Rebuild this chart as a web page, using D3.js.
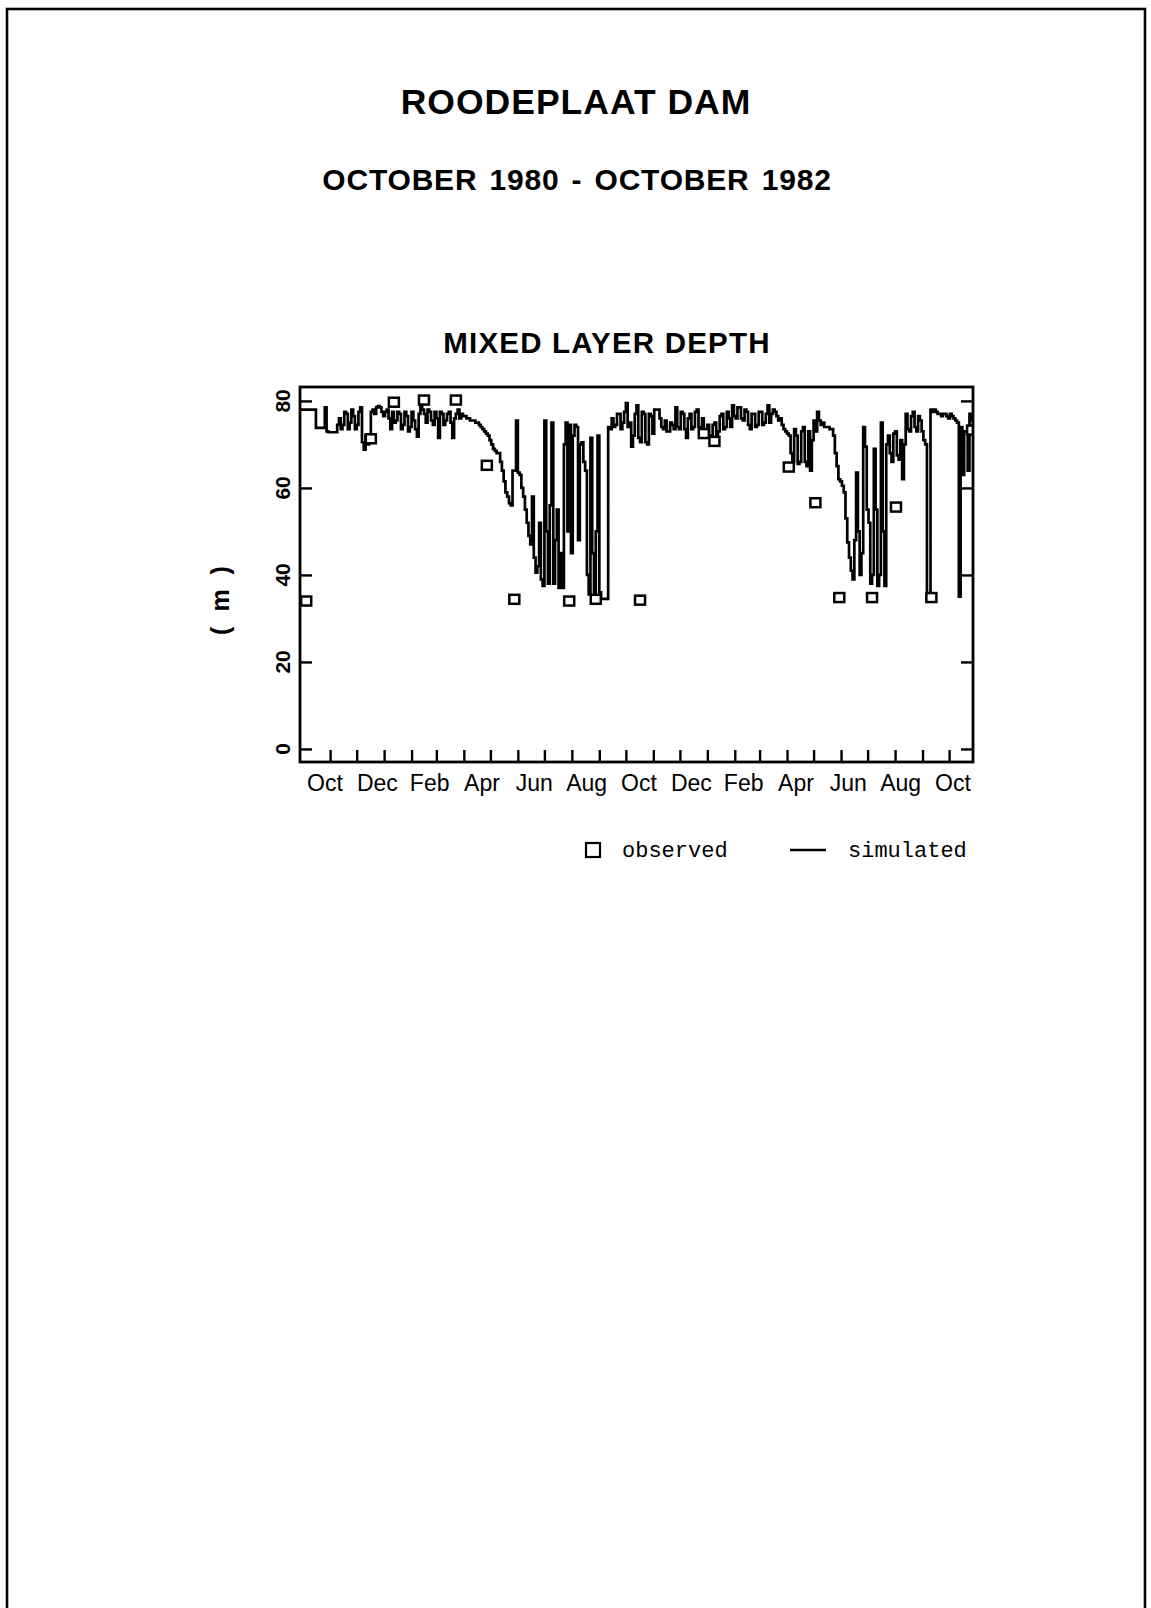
<!DOCTYPE html>
<html>
<head>
<meta charset="utf-8">
<script src="https://cdn.jsdelivr.net/npm/d3@7"></script>
<style>
  body { margin: 0; background: #fff; }
  svg { display: block; }
</style>
</head>
<body>
<div id="chart"></div>
<script>
// simulated mixed layer depth (m), every 4 days
var simStart = new Date(1980, 8, 28);
var simStepDays = 4;
var simulated = [
  78, 78, 78, 78, 78, 73.8, 73.8, 78.5, 72.8, 72.8,
  72.8, 76, 74.5, 77, 75, 76.5, 74.5, 78.5, 68.8, 70,
  77.5, 77, 78.8, 77.5, 77.5, 76, 77.5, 75.5, 77, 74.5,
  76.5, 74, 75.5, 71.8, 79.5, 77, 78, 75.5, 77.5, 71.5,
  77, 75.5, 77.5, 71.5, 77, 76, 76.5, 76, 75.5, 75.5,
  75, 74, 73, 72, 70, 68.5, 68, 64, 59, 56.5,
  64, 75.5, 63, 58, 52, 47, 44, 42, 39, 75.5,
  38, 75, 48, 37, 37, 75, 74.5, 72, 74, 70,
  66, 40, 71.5, 35, 72, 34.5, 34.5, 74, 76, 74.5,
  77, 75, 79.5, 75, 72, 79, 70.5, 77, 70, 76.5,
  78, 78, 74, 75.5, 73, 74.5, 78.5, 73.5, 77, 71.5,
  77, 74, 78, 73.5, 72.5, 74.5, 72, 75, 73, 77,
  74, 76, 79, 76, 78.5, 75.5, 77.5, 73.5, 77, 74.5,
  77.5, 75, 79, 77, 77.5, 75.5, 74.5, 73, 72, 66,
  72, 66, 74, 65, 64, 75.5, 77.5, 74.5, 74, 74,
  73.5, 68, 62, 60.5, 53, 44, 39, 63.5, 40, 74,
  55, 38, 69, 37.5, 75, 37.5, 72, 66, 73, 66.5,
  62, 77, 73, 77.5, 73, 75.5, 71, 34.5, 78, 78,
  77, 76.5, 77, 76, 76.5, 75.5, 35, 63, 73, 77,
  74
];
// the in-between readings, 2 days after each value above (daily swings)
var simulatedMid = [
  78, 78, 78, 78, 73.8, 73.8, 73.8, 73, 72.8, 72.8,
  74.5, 73.5, 77.5, 73.5, 78, 73.5, 77.5, 70.5, 72, 71.5,
  78, 78.5, 78.5, 76.5, 78, 73.5, 75, 77.5, 73.5, 77.5,
  73, 77.5, 73.5, 77, 78, 75, 77.5, 74.5, 76, 77.5,
  74.5, 77, 75, 76, 78, 77, 76.5, 76, 75.5, 75,
  74.5, 73.5, 72.5, 71, 69, 68, 66, 61.5, 58, 56,
  64, 63.5, 60, 55, 49, 58, 40.5, 52, 37.5, 50,
  56, 38, 55, 45, 70, 50, 45, 74.5, 48, 70.5,
  64, 35.5, 45, 50, 36, 34.5, 34.5, 73.5, 74, 77,
  73.5, 77.5, 74, 69.5, 77, 71.5, 77.5, 70.5, 77, 72.5,
  78, 76, 73.5, 73, 75, 73.5, 74, 77.5, 73.5, 76,
  73.5, 77.5, 74, 76, 73.5, 71.5, 74.5, 71, 76.5, 73.5,
  77.5, 74, 76.5, 78.5, 76, 78, 74.5, 77, 74, 77.5,
  74.5, 77, 75, 78, 76.5, 76, 73.5, 72.5, 68, 73.5,
  65.5, 73, 66, 73, 71, 73, 75.5, 75, 74, 73.5,
  72, 65, 61.5, 59, 47.5, 41, 48, 50, 45, 69.5,
  52, 40, 55, 40, 50, 70, 68, 72.5, 67.5, 71,
  70, 73.5, 76.5, 74, 76.5, 73, 70, 34.5, 77.5, 77.5,
  77, 77, 76.5, 77, 76, 75, 74, 73, 64, 75.5
];

// observed mixed layer depth (m)
var obsDates = [
  "1980-10-05", "1980-12-17", "1981-01-12", "1981-02-15", "1981-03-23",
  "1981-04-27", "1981-05-28", "1981-07-29", "1981-08-28", "1981-10-17",
  "1981-12-28", "1982-01-09", "1982-04-03", "1982-05-03", "1982-05-30",
  "1982-07-06", "1982-08-02", "1982-09-11", "1982-10-27"
];
var obsValues = [
  34, 71.3, 79.7, 80.2, 80.2,
  65.2, 34.4, 34, 34.4, 34.2,
  72.5, 70.7, 64.8, 56.6, 34.8,
  34.8, 55.6, 34.8, 73.3
];

var monthLabels = ["Oct", "Dec", "Feb", "Apr", "Jun", "Aug", "Oct", "Dec", "Feb", "Apr", "Jun", "Aug", "Oct"];
var yTicks = [0, 20, 40, 60, 80];
var legendLabels = ["observed", "simulated"];

var W = 1151, H = 1608;
var svg = d3.select('#chart').append('svg')
  .attr('width', W)
  .attr('height', H);

// page frame
svg.append('rect')
  .attr('x', 7).attr('y', 9)
  .attr('width', 1138).attr('height', 1640)
  .attr('fill', 'none')
  .attr('stroke', '#000')
  .attr('stroke-width', 2.6);

// titles
var titleFont = 'Liberation Sans, Arial, Helvetica, sans-serif';
svg.append('text')
  .attr('x', 576).attr('y', 114)
  .attr('text-anchor', 'middle')
  .style('font-family', titleFont)
  .style('font-weight', 'bold')
  .style('font-size', '35.5px')
  .style('letter-spacing', '1px')
  .text('ROODEPLAAT DAM');

svg.append('text')
  .attr('x', 577).attr('y', 190)
  .attr('text-anchor', 'middle')
  .style('font-family', titleFont)
  .style('font-weight', 'bold')
  .style('font-size', '30px')
  .style('letter-spacing', '0.8px')
  .style('word-spacing', '3px')
  .text('OCTOBER 1980 - OCTOBER 1982');

svg.append('text')
  .attr('x', 607).attr('y', 353)
  .attr('text-anchor', 'middle')
  .style('font-family', titleFont)
  .style('font-weight', 'bold')
  .style('font-size', '29.5px')
  .style('letter-spacing', '1.2px')
  .text('MIXED LAYER DEPTH');

// plot area
var pw = 673, ph = 375;
var plot = svg.append('g').attr('transform', 'translate(300,387)');

var x = d3.scaleTime()
  .domain([new Date(1980, 8, 28), new Date(1982, 9, 28)])
  .range([0, pw]);
var y = d3.scaleLinear()
  .domain([-3, 83.2])
  .range([ph, 0]);

plot.append('clipPath').attr('id', 'clip')
  .append('rect').attr('width', pw).attr('height', ph);

// simulated line: 4-day readings interleaved with the in-between readings
var simPts = [];
simulated.forEach(function (v, i) {
  simPts.push({ date: d3.timeDay.offset(simStart, i * simStepDays), v: v });
  if (i < simulatedMid.length) {
    simPts.push({ date: d3.timeDay.offset(simStart, i * simStepDays + simStepDays / 2), v: simulatedMid[i] });
  }
});
simPts.push({ date: d3.timeDay.offset(simStart, simulated.length * simStepDays), v: simulated[simulated.length - 1] });

var line = d3.line()
  .x(function (d) { return x(d.date); })
  .y(function (d) { return y(d.v); })
  .curve(d3.curveStepAfter);

plot.append('path')
  .datum(simPts)
  .attr('clip-path', 'url(#clip)')
  .attr('d', line)
  .attr('fill', 'none')
  .attr('stroke', '#000')
  .attr('stroke-width', 2.7)
  .attr('stroke-linejoin', 'miter');

// observed squares
var parse = d3.timeParse('%Y-%m-%d');
var obs = obsDates.map(function (d, i) { return { date: parse(d), v: obsValues[i] }; });
plot.append('g')
  .attr('clip-path', 'url(#clip)')
  .selectAll('rect')
  .data(obs)
  .enter()
  .append('rect')
  .attr('x', function (d) { return x(d.date) - 5; })
  .attr('y', function (d) { return y(d.v) - 4.5; })
  .attr('width', 10)
  .attr('height', 9)
  .attr('fill', '#fff')
  .attr('stroke', '#000')
  .attr('stroke-width', 2.5);

// axes: inward ticks, no labels
var monthTicks = d3.timeMonth.range(new Date(1980, 10, 1), new Date(1982, 10, 1));
var xAxis = d3.axisBottom(x).tickValues(monthTicks).tickSizeInner(-12).tickSizeOuter(0).tickFormat('');
var yLeft = d3.axisLeft(y).tickValues(yTicks).tickSizeInner(-12).tickSizeOuter(0).tickFormat('');
var yRight = d3.axisRight(y).tickValues(yTicks).tickSizeInner(-12).tickSizeOuter(0).tickFormat('');

plot.append('g').attr('class', 'axis').attr('transform', 'translate(0,' + ph + ')').call(xAxis);
plot.append('g').attr('class', 'axis').call(yLeft);
plot.append('g').attr('class', 'axis').attr('transform', 'translate(' + pw + ',0)').call(yRight);
plot.selectAll('.axis path.domain').remove();
plot.selectAll('.axis line').attr('stroke', '#000').attr('stroke-width', 2.4);

// frame
plot.append('rect')
  .attr('width', pw).attr('height', ph)
  .attr('fill', 'none')
  .attr('stroke', '#000')
  .attr('stroke-width', 2.8);

// month labels along the bottom
var labelX = d3.scalePoint().domain(d3.range(monthLabels.length)).range([25, 653]);
plot.append('g').selectAll('text')
  .data(monthLabels)
  .enter()
  .append('text')
  .attr('x', function (d, i) { return labelX(i); })
  .attr('y', ph + 29)
  .attr('text-anchor', 'middle')
  .style('font-family', titleFont)
  .style('font-size', '23px')
  .text(function (d) { return d; });

// y tick labels, rotated
plot.append('g').selectAll('text')
  .data(yTicks)
  .enter()
  .append('text')
  .attr('transform', function (d) { return 'translate(-10,' + y(d) + ') rotate(-90)'; })
  .attr('text-anchor', 'middle')
  .style('font-family', titleFont)
  .style('font-weight', 'bold')
  .style('font-size', '21px')
  .text(function (d) { return d; });

// y unit label
plot.append('text')
  .attr('transform', 'translate(-71,' + (ph / 2 + 24) + ') rotate(-90)')
  .attr('text-anchor', 'middle')
  .style('font-family', titleFont)
  .style('font-weight', 'bold')
  .style('font-size', '25px')
  .style('letter-spacing', '4px')
  .text('( m )');

// legend
var monoFont = 'Liberation Mono, Courier New, monospace';
var legend = svg.append('g').attr('transform', 'translate(586,850)');
legend.append('rect')
  .attr('x', 0).attr('y', -7)
  .attr('width', 14).attr('height', 14)
  .attr('fill', 'none')
  .attr('stroke', '#000')
  .attr('stroke-width', 2.2);
legend.append('text')
  .attr('x', 36).attr('y', 7)
  .style('font-family', monoFont)
  .style('font-size', '22px')
  .text(legendLabels[0]);
legend.append('line')
  .attr('x1', 204).attr('x2', 240)
  .attr('y1', 0).attr('y2', 0)
  .attr('stroke', '#000')
  .attr('stroke-width', 2.5);
legend.append('text')
  .attr('x', 262).attr('y', 7)
  .style('font-family', monoFont)
  .style('font-size', '22px')
  .text(legendLabels[1]);
</script>
</body>
</html>
